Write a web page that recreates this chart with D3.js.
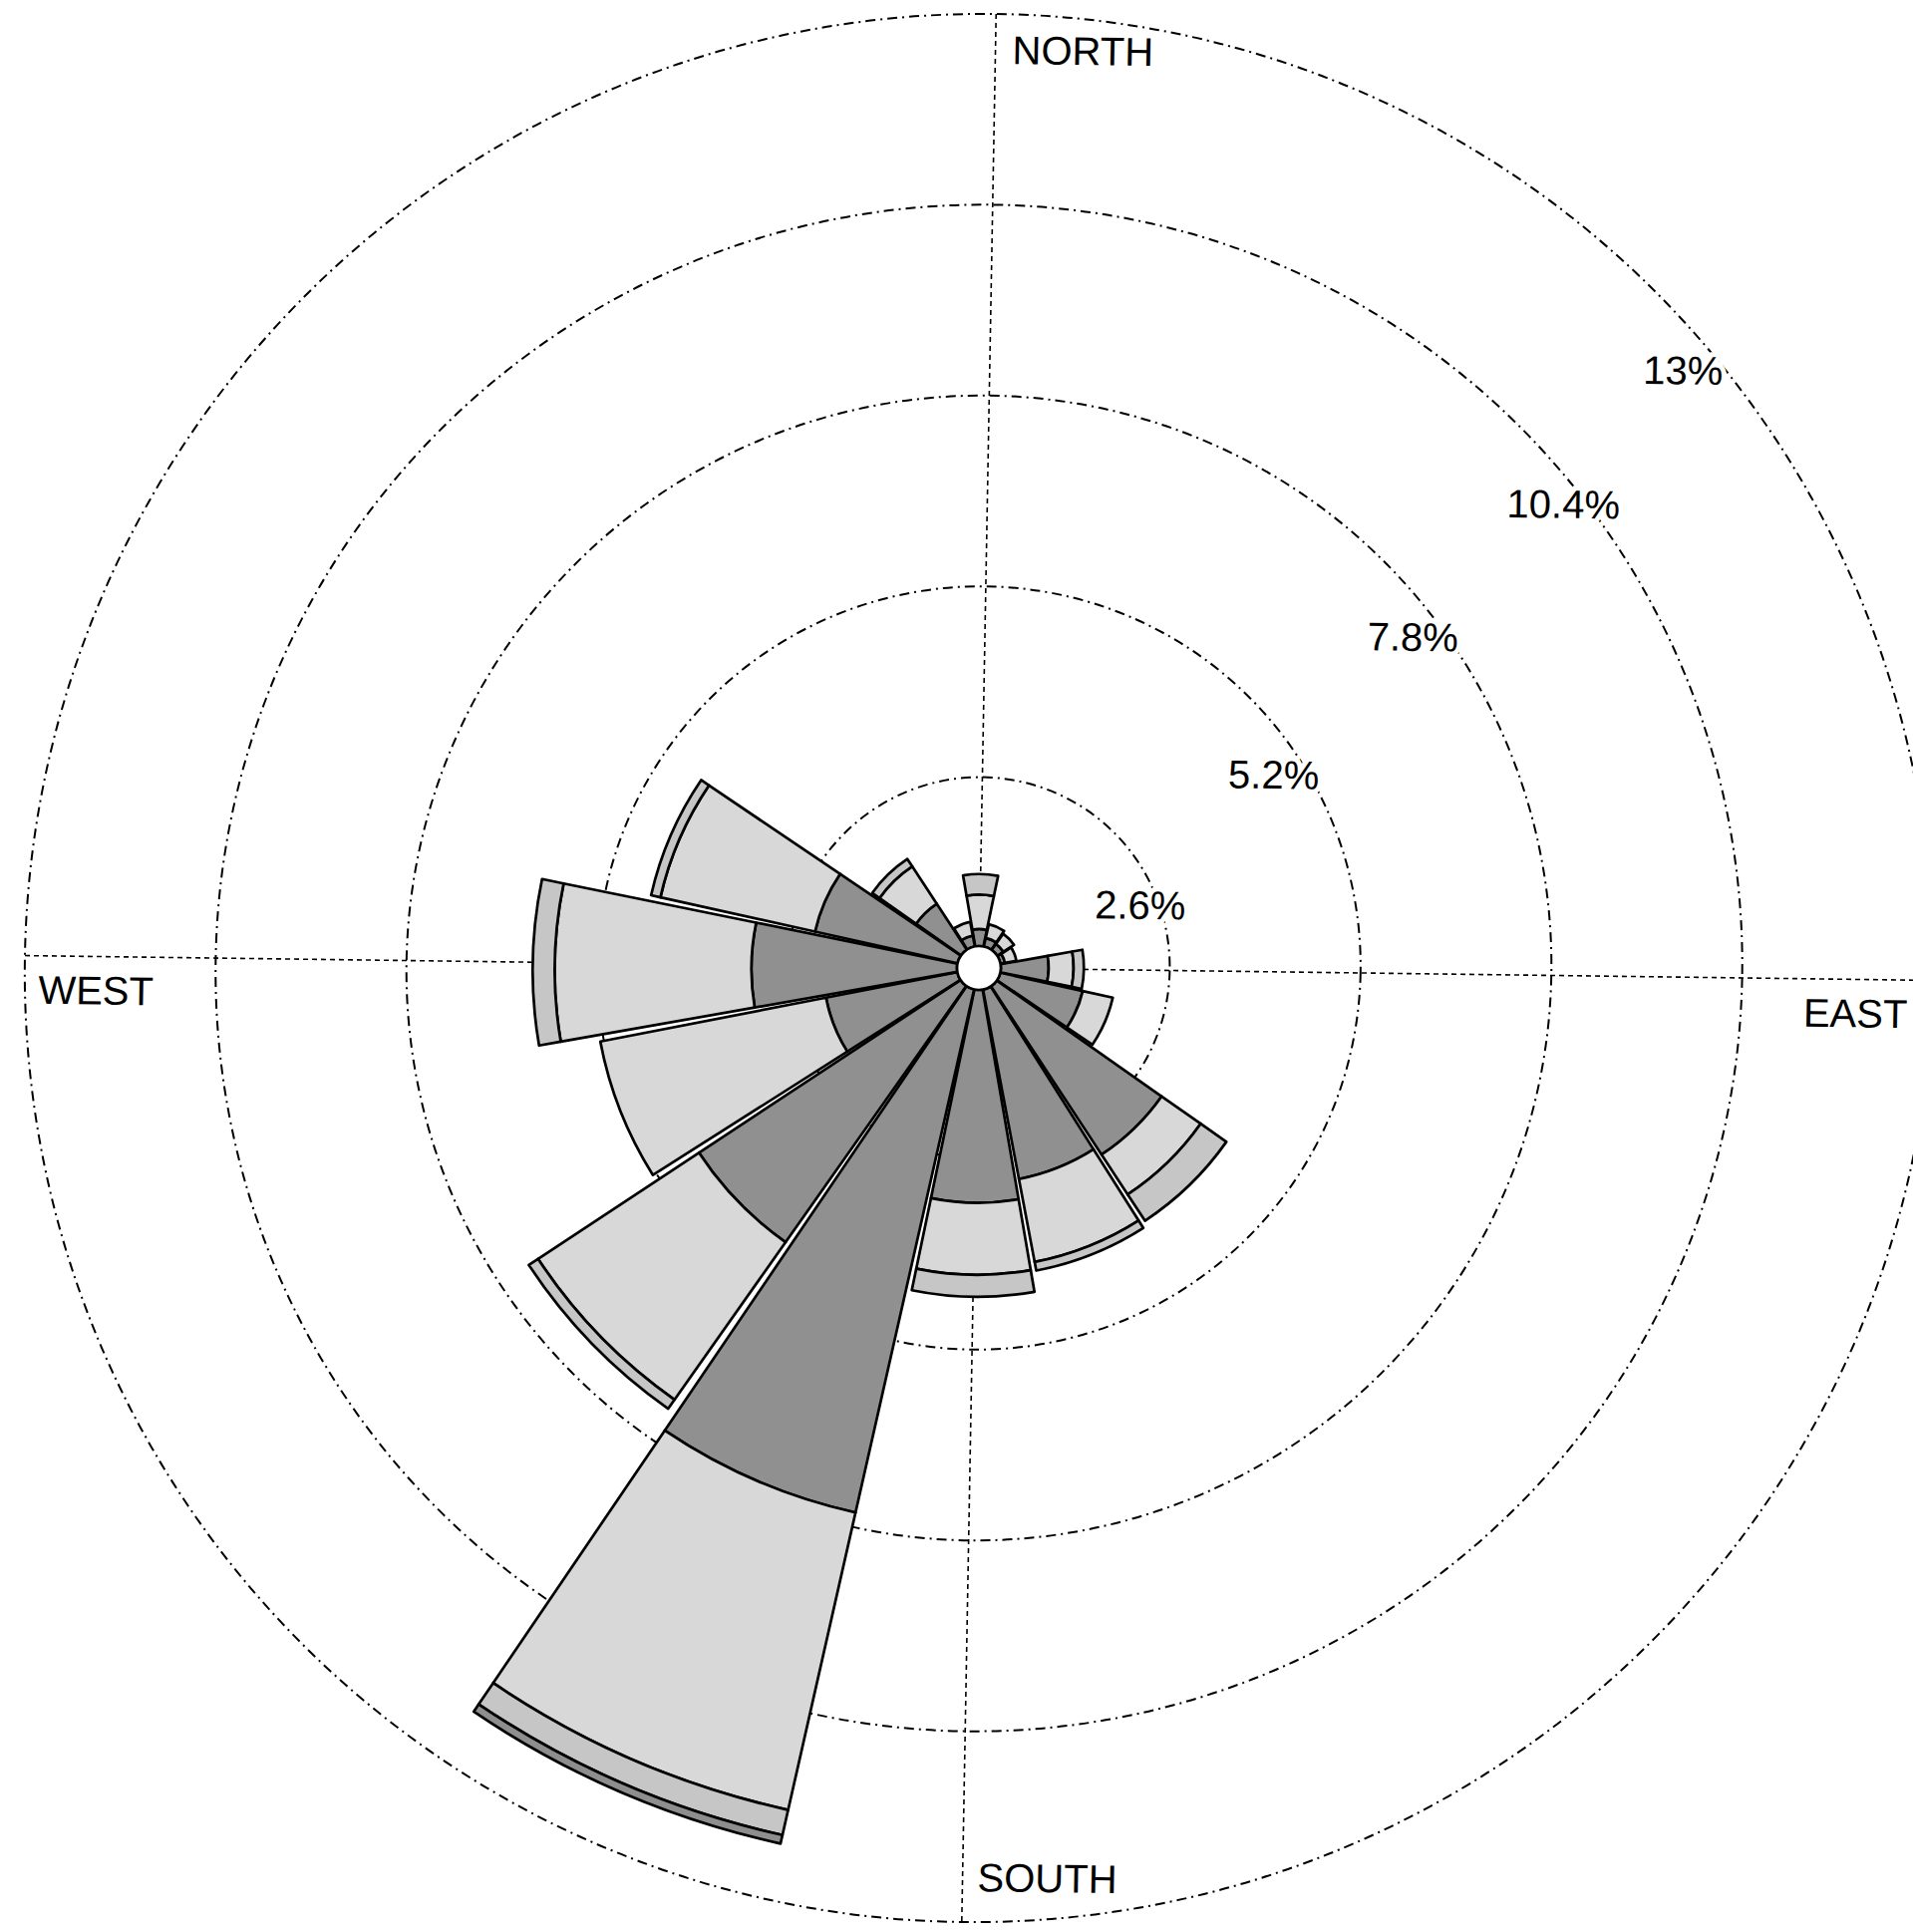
<!DOCTYPE html>
<html>
<head>
<meta charset="utf-8">
<script src="https://cdn.jsdelivr.net/npm/d3@7"></script>
<style>
  body { margin: 0; background: #fff; }
  svg { display: block; }
  text { font-family: "Liberation Sans", Arial, sans-serif; }
</style>
</head>
<body>
<svg id="rose"></svg>
<script>
// wind directions (16 sectors)
const directions = ['N','NNE','NE','ENE','E','ESE','SE','SSE','S','SSW','SW','WSW','W','WNW','NW','NNW'];
// frequency (%) per speed class
const class1 = [0.53, 0.42, 0.40, 0.36, 0.95, 1.45, 3.05, 2.93, 3.20, 7.60, 4.56, 2.12, 3.10, 2.29, 1.05, 0.45];
const class2 = [0.47, 0.19, 0.17, 0.16, 0.34, 0.42, 0.65, 1.15, 0.98, 4.15, 2.62, 3.13, 2.68, 2.16, 0.61, 0.19];
const class3 = [0.28, 0.00, 0.00, 0.00, 0.14, 0.00, 0.43, 0.12, 0.30, 0.35, 0.15, 0.00, 0.30, 0.13, 0.12, 0.00];
const class4 = [0.00, 0.00, 0.00, 0.00, 0.00, 0.00, 0.00, 0.00, 0.00, 0.12, 0.00, 0.00, 0.00, 0.00, 0.00, 0.00];
// rings
const ringValues = [2.6, 5.2, 7.8, 10.4, 13];
const ringLabels = ['2.6%', '5.2%', '7.8%', '10.4%', '13%'];
const compassLabels = ['NORTH', 'EAST', 'SOUTH', 'WEST'];

const width = 1919, height = 1938;
const cx = 982, cy = 971;
const holeR = 22;
const toRad = Math.PI / 180;

const svg = d3.select('#rose')
  .attr('width', width)
  .attr('height', height);

// the scan is a little skewed: vertical axis leans ~1deg, horizontal ~0.75deg
const g = svg.append('g')
  .attr('transform', `matrix(1,0.013,-0.018,1,${cx},${cy})`);

const r = d3.scaleLinear().domain([0, 13]).range([0, 957]);
const angle = d3.scaleBand().domain(directions).range([0, 360]);
const half = 10.75; // half width of a sector in degrees

// rings
g.append('g').selectAll('circle')
  .data(ringValues)
  .join('circle')
    .attr('r', d => r(d))
    .attr('fill', 'none')
    .attr('stroke', '#000')
    .attr('stroke-width', 2)
    .attr('stroke-dasharray', '10,5,2,5');

// compass axes
const R = r(13);
g.append('line').attr('x1', 0).attr('y1', -R).attr('x2', 0).attr('y2', R);
g.append('line').attr('x1', -R).attr('y1', 0).attr('x2', R).attr('y2', 0);
g.selectAll('line')
  .attr('stroke', '#000')
  .attr('stroke-width', 1.6)
  .attr('stroke-dasharray', '5,4');

// stacked bars
const keys = ['c1', 'c2', 'c3', 'c4'];
const fills = {c1: '#909090', c2: '#d8d8d8', c3: '#c6c6c6', c4: '#8e8e8e'};
const rows = directions.map((d, i) => ({dir: d, c1: class1[i], c2: class2[i], c3: class3[i], c4: class4[i]}));
const series = d3.stack().keys(keys)(rows);

const arc = d3.arc()
  .innerRadius(d => Math.max(holeR, r(d[0])))
  .outerRadius(d => r(d[1]))
  .startAngle(d => (angle(d.data.dir) - half) * toRad)
  .endAngle(d => (angle(d.data.dir) + half) * toRad);

g.append('g').selectAll('g')
  .data(series)
  .join('g')
    .attr('fill', s => fills[s.key])
  .selectAll('path')
  .data(s => s.filter(d => d[1] - d[0] > 0))
  .join('path')
    .attr('d', arc)
    .attr('stroke', '#000')
    .attr('stroke-width', 2.7)
    .attr('stroke-linejoin', 'round');

// calm circle
g.append('circle')
  .attr('r', holeR)
  .attr('fill', '#fff')
  .attr('stroke', '#000')
  .attr('stroke-width', 2.7);

// ring labels, they blank out the ring under them
const ringLabelAngles = [67.9, 55.9, 51.8, 50.7, 48.8];
const ringLabelInset = [18, 30, 28, 19, 33];
g.append('g').selectAll('text')
  .data(ringValues)
  .join('text')
    .attr('x', (d, i) => (r(d) - ringLabelInset[i]) * Math.sin(ringLabelAngles[i] * toRad))
    .attr('y', (d, i) => -(r(d) - ringLabelInset[i]) * Math.cos(ringLabelAngles[i] * toRad) + 14)
    .attr('text-anchor', 'middle')
    .attr('font-size', 40)
    .attr('stroke', '#fff')
    .attr('stroke-width', 10)
    .attr('paint-order', 'stroke')
    .text((d, i) => ringLabels[i]);

// compass labels
const compassPos = [
  {x: 17, y: -907, anchor: 'start'},
  {x: 932, y: 48, anchor: 'end'},
  {x: 15, y: 926, anchor: 'start'},
  {x: -943, y: 48, anchor: 'start'}
];
g.append('g').selectAll('text')
  .data(compassLabels)
  .join('text')
    .attr('x', (d, i) => compassPos[i].x)
    .attr('y', (d, i) => compassPos[i].y)
    .attr('text-anchor', (d, i) => compassPos[i].anchor)
    .attr('font-size', 40)
    .text(d => d);
</script>
</body>
</html>
